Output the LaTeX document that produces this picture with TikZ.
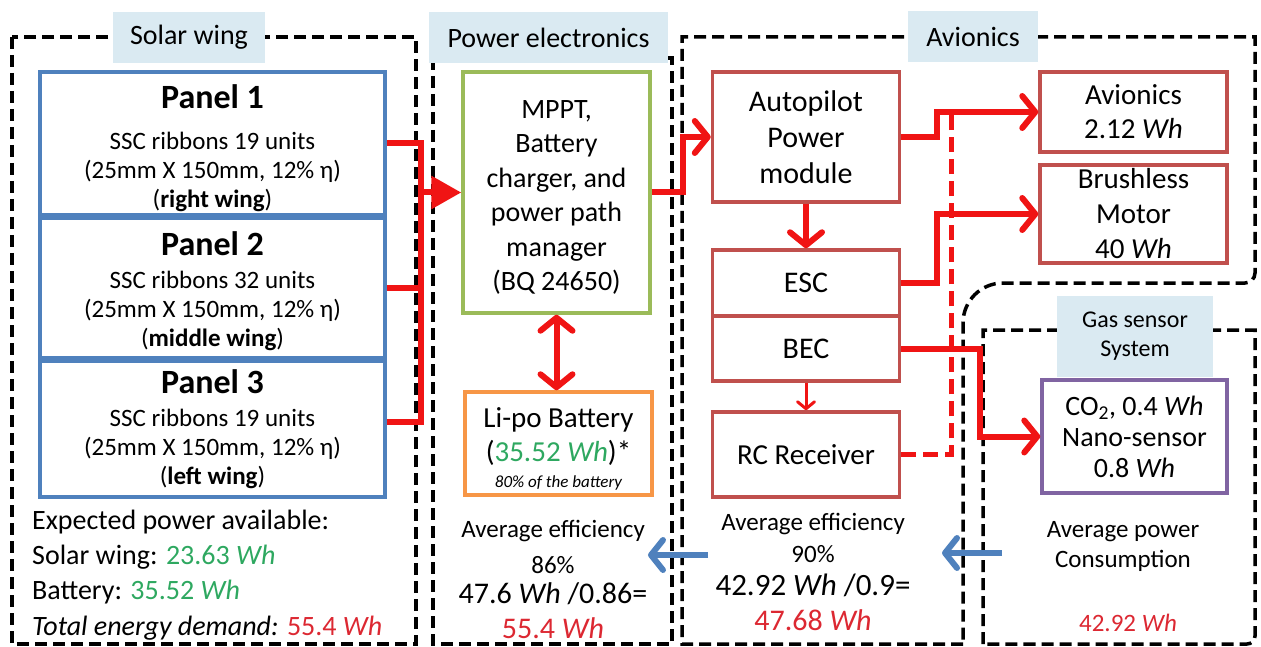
\documentclass[tikz,border=0pt]{standalone}
\usepackage{fontspec}
\setmainfont{Carlito}
\usetikzlibrary{arrows.meta}
\definecolor{panelblue}{RGB}{79,129,189}
\definecolor{mpptgreen}{RGB}{155,187,89}
\definecolor{batorange}{RGB}{247,150,70}
\definecolor{unitred}{RGB}{192,80,77}
\definecolor{gaspurple}{RGB}{128,100,162}
\definecolor{tagblue}{RGB}{218,234,242}
\definecolor{wirered}{RGB}{240,20,20}
\definecolor{valgreen}{RGB}{46,168,96}
\definecolor{valred}{RGB}{220,40,50}
\begin{document}
\begin{tikzpicture}[x=1pt,y=-1pt,
  every node/.style={align=center,inner sep=0pt,font=\fontsize{28}{34.5}\selectfont},
  box/.style={draw,line width=3.5pt,fill=white,minimum width=187pt},
  panel/.style={box,draw=panelblue,minimum width=345pt,font=\fontsize{25}{29}\selectfont},
  unit/.style={box,draw=unitred},
  sect/.style={fill=tagblue,minimum height=51pt,font=\fontsize{28}{30}\selectfont},
  zone/.style={line width=3.5pt,dash pattern=on 12pt off 6pt},
  wire/.style={draw=wirered,line width=6pt},
  flow/.style={wire,-{Straight Barb[length=13pt,width=32pt,round]}},
  dflow/.style={wire,{Straight Barb[length=13pt,width=32pt,round]}-{Straight Barb[length=13pt,width=32pt,round]}},
  ret/.style={draw=panelblue,line width=6pt,-{Straight Barb[length=12pt,width=30pt,round]}},
  info/.style={font=\fontsize{25}{30}\selectfont}
]
\useasboundingbox (0,0) rectangle (1261,647);
% dashed groups
\draw[zone] (12,37) rectangle (416,644);
\draw[zone] (433,58) rectangle (672,644);
\draw[zone] (963,644) -- (682,644) -- (682,37) -- (1255,37) [rounded corners=10pt] -- (1255,283) [rounded corners=40pt] -- (963,283) -- (963,644);
\draw[zone] (983,644) -- (983,330) -- (1255,330) [rounded corners=8pt] -- (1255,644) [sharp corners] -- cycle;
\node[sect,minimum width=152pt] (tsol) at (189,37.5) {Solar wing};
\node[sect,minimum width=239pt] (tpow) at (548.5,37.5) {Power electronics};
\node[sect,minimum width=130pt] (tavi) at (973,37) {Avionics};
\node[sect,minimum width=156pt,minimum height=81pt,font=\fontsize{24}{29}\selectfont] (tgas) at (1135,336.5) {Gas sensor\\System};
% solar panels
\node[panel,minimum height=143pt] (p1) at (212.5,143.5) {{\fontsize{34}{40}\selectfont\bfseries\rule{0pt}{33pt}Panel 1}\\[12pt]SSC ribbons 19 units\\(25mm X 150mm, 12\% η)\\(\textbf{right wing})};
\node[panel,minimum height=140pt] (p2) at (212.5,288) {{\fontsize{34}{40}\selectfont\bfseries\rule{0pt}{30pt}Panel 2}\\[4pt]SSC ribbons 32 units\\(25mm X 150mm, 12\% η)\\(\textbf{middle wing})};
\node[panel,minimum height=136pt] (p3) at (212.5,429) {{\fontsize{34}{40}\selectfont\bfseries Panel 3}\\[4pt]SSC ribbons 19 units\\(25mm X 150mm, 12\% η)\\(\textbf{left wing})};
% power electronics
\node[box,draw=mpptgreen,minimum height=241pt] (mppt) at (556.5,192.5) {\rule{0pt}{28pt}MPPT,\\Battery\\charger, and\\power path\\manager\\(BQ 24650)};
\node[box,draw=batorange,minimum height=103pt,font=\fontsize{29}{34}\selectfont] (bat) at (558.5,443.5) {\rule{0pt}{30pt}Li-po Battery\\(\textcolor{valgreen}{35.52 \textit{Wh}})*\\[-8pt]{\fontsize{17}{20}\selectfont\itshape 80\% of the battery}};
% avionics
\node[unit,minimum height=130pt,font=\fontsize{30}{36}\selectfont] (ap) at (806,137) {Autopilot\\Power\\module};
\node[unit,minimum height=66pt,font=\fontsize{30}{36}\selectfont] (esc) at (806,283) {ESC};
\node[unit,minimum height=65pt,font=\fontsize{30}{36}\selectfont] (bec) at (806,348.5) {BEC};
\node[unit,minimum height=85pt,font=\fontsize{29}{34}\selectfont] (rc) at (806,454.5) {RC Receiver};
\node[unit,minimum height=80pt,font=\fontsize{29}{34}\selectfont] (avi) at (1133.5,112) {Avionics\\2.12 \textit{Wh}};
\node[unit,minimum height=98pt,font=\fontsize{29}{35}\selectfont] (mot) at (1133.5,214) {Brushless\\Motor\\40 \textit{Wh}};
\node[box,draw=gaspurple,minimum width=185pt,minimum height=113pt,font=\fontsize{28}{31}\selectfont] (gas) at (1134.5,436.5) {CO\textsubscript{2}, 0.4 \textit{Wh}\\Nano-sensor\\0.8 \textit{Wh}};
% budgets
\node[anchor=west,align=left,font=\fontsize{28}{35.3}\selectfont] (avail) at (32,575) {Expected power available:\\Solar wing: \textcolor{valgreen}{23.63 \textit{Wh}}\\Battery: \textcolor{valgreen}{35.52 \textit{Wh}}\\\textit{Total energy demand:} \textcolor{valred}{55.4 \textit{Wh}}};
\node[info] (effpow) at (553,579) {Average efficiency\\[6pt]86\%\\{\fontsize{30}{36}\selectfont 47.6 \textit{Wh} /0.86=}\\[5pt]{\fontsize{30}{36}\selectfont\textcolor{valred}{55.4 \textit{Wh}}}};
\node[info] (effavi) at (813,572) {Average efficiency\\[2pt]90\%\\[3pt]{\fontsize{31}{36}\selectfont 42.92 \textit{Wh} /0.9=}\\[5pt]{\fontsize{30}{36}\selectfont\textcolor{valred}{47.68 \textit{Wh}}}};
\node[info] (cons) at (1123,546) {Average power\\Consumption};
\node[info,font=\fontsize{25}{30}\selectfont] (load) at (1128,623) {\textcolor{valred}{42.92 \textit{Wh}}};
% power wiring
\coordinate (bus) at (421,192.5);
\coordinate (p3o) at ([yshift=7pt]p3.east);
\coordinate (j1) at (683,192.5);
\coordinate (j2) at (937,0);
\coordinate (j3) at (980,0);
\coordinate (j4) at (951,0);
\draw[wire] (p1.east) -| (p3o -| bus) -- (p3o);
\draw[wire] (p2.east) -- (p2.east -| bus);
\draw[wire,-{Triangle[length=30pt,width=32pt]}] (bus) -- (mppt.west);
\draw[dflow] (mppt.south) -- (mppt.south |- bat.north);
\draw[flow] (mppt.east) -- (j1) |- (ap.west);
\draw[flow] (ap) -- (esc);
\draw[wire,line width=3pt,-{Straight Barb[length=7pt,width=17pt,round]}] (bec) -- (rc);
\draw[flow] (ap.east) -| (j2 |- avi.west) -- (avi.west);
\draw[flow] (esc.east) -| (j2 |- mot.west) -- (mot.west);
\draw[flow] (bec.east) -| (j3 |- gas.west) -- (gas.west);
\draw[wire,line width=5pt,dash pattern=on 15pt off 7pt] (rc.east) -| (j4 |- avi.west);
% energy demand back
\coordinate (r1) at (708,555);
\coordinate (r1e) at (648,555);
\coordinate (r2) at (1002,553);
\coordinate (r2e) at (942,553);
\draw[ret] (r1) -- (r1e);
\draw[ret] (r2) -- (r2e);
\end{tikzpicture}
\end{document}
